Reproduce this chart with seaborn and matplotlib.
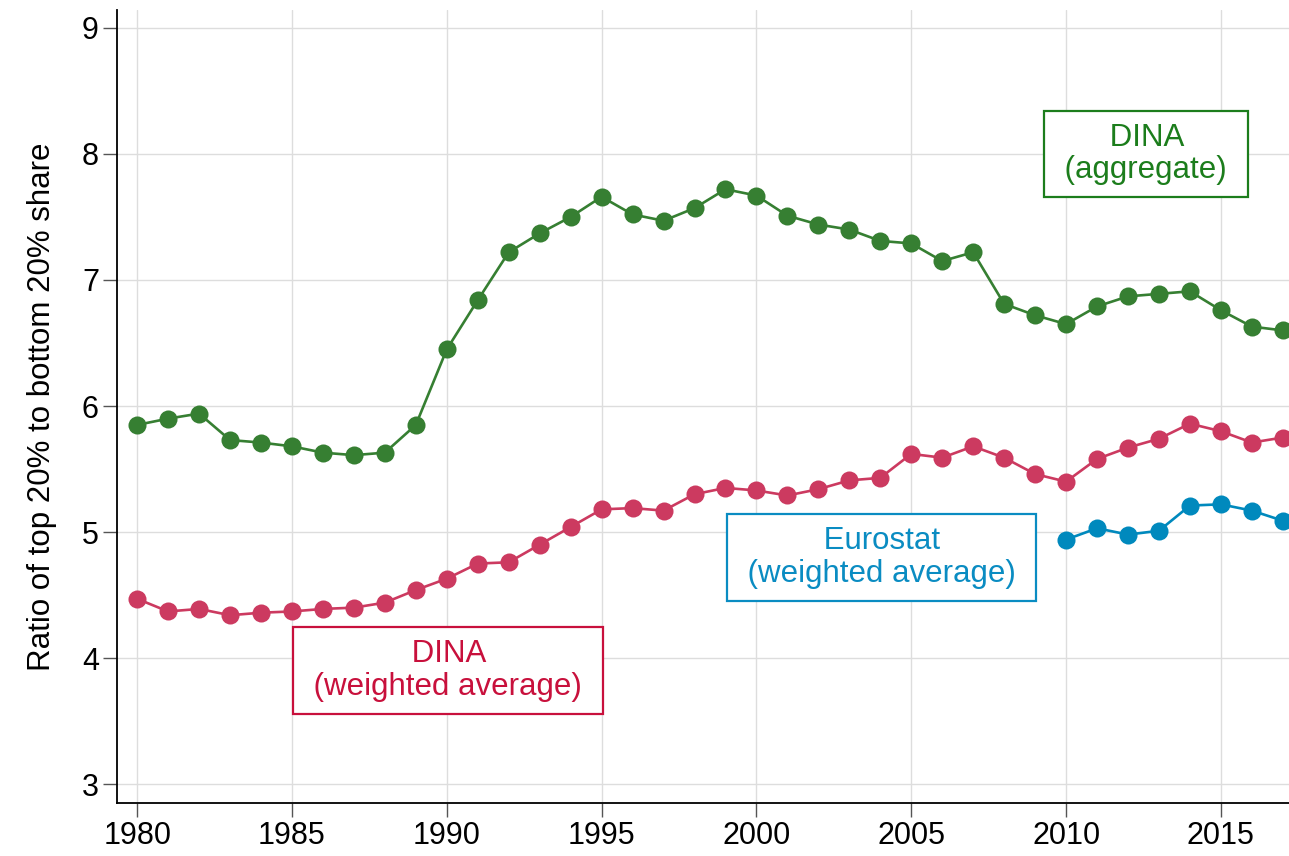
import numpy as np
import pandas as pd
import matplotlib
matplotlib.use("Agg")
import matplotlib.pyplot as plt
import seaborn as sns

# -------------------------
# Data
# -------------------------
years = list(range(1980, 2018))

dina_aggregate = [
    5.85, 5.90, 5.94, 5.73, 5.71, 5.68, 5.63, 5.61, 5.63, 5.85,
    6.45, 6.84, 7.22, 7.37, 7.50, 7.66, 7.52, 7.47, 7.57, 7.72,
    7.67, 7.51, 7.44, 7.40, 7.31, 7.29, 7.15, 7.22, 6.81, 6.72,
    6.65, 6.79, 6.87, 6.89, 6.91, 6.76, 6.63, 6.60,
]

dina_weighted = [
    4.47, 4.37, 4.39, 4.34, 4.36, 4.37, 4.39, 4.40, 4.44, 4.54,
    4.63, 4.75, 4.76, 4.90, 5.04, 5.18, 5.19, 5.17, 5.30, 5.35,
    5.33, 5.29, 5.34, 5.41, 5.43, 5.62, 5.59, 5.68, 5.59, 5.46,
    5.40, 5.58, 5.67, 5.74, 5.86, 5.80, 5.71, 5.75,
]

eurostat_years = list(range(2010, 2018))
eurostat_weighted = [4.94, 5.03, 4.98, 5.01, 5.21, 5.22, 5.17, 5.09]

GREEN = "#367f32"
RED = "#cc3a60"
BLUE = "#0089bd"
GREEN_TXT = "#1c7d1c"
RED_TXT = "#c8103c"
BLUE_TXT = "#0a8cc2"

# -------------------------
# Plot
# -------------------------
sns.set_theme(style="whitegrid")
plt.rcParams['font.family'] = ['Liberation Sans', 'DejaVu Sans']
plt.rcParams['text.color'] = 'black'
plt.rcParams['axes.labelcolor'] = 'black'
plt.rcParams['xtick.labelcolor'] = 'black'
plt.rcParams['ytick.labelcolor'] = 'black'

fig = plt.figure(figsize=(12.89, 8.56), dpi=100)
ax = fig.add_axes([0.0908, 0.0619, 0.9092, 0.9261])

line_kw = dict(marker="o", markersize=13, linewidth=1.9, markeredgewidth=0)
sns.lineplot(x=years, y=dina_aggregate, color=GREEN, ax=ax, **line_kw)
sns.lineplot(x=years, y=dina_weighted, color=RED, ax=ax, **line_kw)
sns.lineplot(x=eurostat_years, y=eurostat_weighted, color=BLUE, ax=ax, **line_kw)

ax.set_xlim(1979.35, 2017.2)
ax.set_ylim(2.85, 9.14)
ax.set_xticks(range(1980, 2016, 5))
ax.set_yticks(range(3, 10))

ax.grid(True, color="#dddddd", linewidth=1.0)
for side in ["top", "right"]:
    ax.spines[side].set_visible(False)
for side in ["left", "bottom"]:
    ax.spines[side].set_color("black")
    ax.spines[side].set_linewidth(1.3)

ax.tick_params(axis="both", which="major", labelsize=22, length=10,
               width=1.0, color="#555555", direction="out",
               bottom=True, left=True, pad=3)
ax.set_ylabel("Ratio of top 20% to bottom 20% share", fontsize=22.5, labelpad=18)
ax.set_xlabel("")

def label_box(x, y, lines, tcol):
    # a space on each side widens the box a little, like the original
    text = "\n".join(" " + s + " " for s in lines)
    ax.text(x, y, text, ha="center", va="center", fontsize=22.5, color=tcol,
            linespacing=1.12,
            bbox=dict(boxstyle="square,pad=0.38", facecolor="white",
                      edgecolor=tcol, linewidth=1.6))

label_box(2012.58, 8.0, ["DINA", "(aggregate)"], GREEN_TXT)
label_box(2004.05, 4.80, ["Eurostat", "(weighted average)"], BLUE_TXT)
label_box(1990.04, 3.90, ["DINA", "(weighted average)"], RED_TXT)

fig.savefig("out.png", dpi=100)
